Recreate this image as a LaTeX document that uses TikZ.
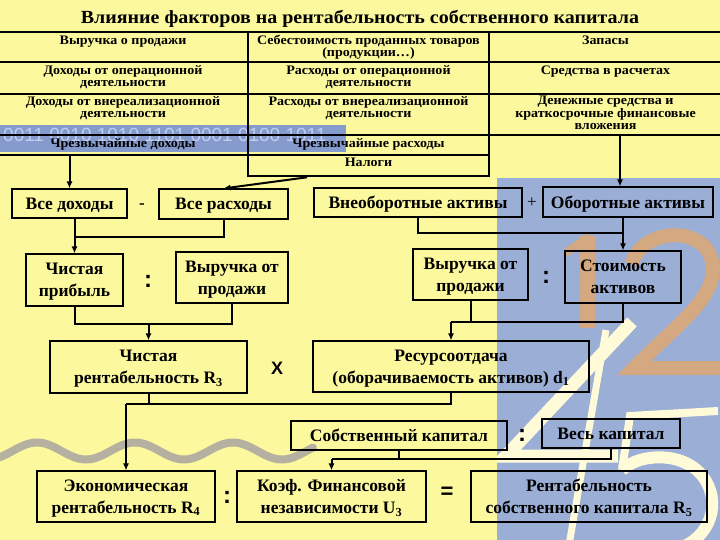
\documentclass[tikz,border=0pt]{standalone}
\usepackage{fontspec}
\setmainfont{Liberation Serif}
\newfontfamily\opsans{Liberation Sans}
\newfontfamily\widefont{Liberation Serif}[FakeStretch=1.08]
\usetikzlibrary{arrows.meta}
\definecolor{bgyel}{RGB}{252,248,158}
\definecolor{bigblue}{RGB}{154,174,214}
\definecolor{stripblue}{RGB}{134,155,205}
\definecolor{stripdig}{RGB}{192,205,238}
\definecolor{tan}{RGB}{212,168,128}
\definecolor{cream}{RGB}{255,250,215}
\definecolor{wavegrey}{RGB}{182,176,160}
\newcommand\cellstrut{\rule{0pt}{10pt}}
\tikzset{
  cellbox/.style={draw=black, line width=2.6pt, inner sep=0pt},
  celltext/.style={anchor=north, inner sep=0pt, align=center, font=\widefont\bfseries\fontsize{13}{12}\selectfont},
  lbox/.style={draw=black, line width=1.1pt, inner sep=0pt, text depth=0pt, align=center, font=\bfseries\fontsize{17.5}{22}\selectfont},
  opsym/.style={inner sep=0pt, font=\opsans\bfseries\fontsize{24}{24}\selectfont},
  conn/.style={line width=2pt},
  arr/.style={line width=2pt, -{Latex[length=7pt,width=6pt]}},
}
\begin{document}
\begin{tikzpicture}[x=1pt,y=-1pt]
\useasboundingbox (0,0) rectangle (720,540);
\fill[bgyel] (0,0) rectangle (720,540);
% decorative background
\fill[bigblue] (497,178) rectangle (722,542);
\begin{scope}
\clip (497,178) rectangle (720,540);
\draw[tan, line width=15pt] (587,236) -- (587,328);
\draw[tan, line width=8pt, line cap=round] (587,238) -- (567,252);
\draw[tan, line width=14pt] (632,264) .. controls (640,228) and (710,222) .. (713,268)
   .. controls (713,300) and (680,322) .. (634,368) -- (722,368);
\draw[cream, line width=13pt] (632,322) -- (506,456) -- (618,456);
\draw[cream, line width=7pt] (606,330) -- (569,545);
\draw[cream, line width=8pt] (718,411) -- (630,416) -- (622,470);
\draw[cream, line width=12pt] (622,470) .. controls (640,452) and (692,450) .. (708,485)
   .. controls (722,515) and (700,548) .. (668,550);
\end{scope}
\fill[stripblue] (0,125) rectangle (346,152);
\node[anchor=base west, inner sep=0pt, text=stripdig, font=\opsans\fontsize{19}{19}\selectfont] (bits) at (3,142) {0011 0010 1010 1101 0001 0100 1011};
\draw[wavegrey, line width=8pt, line cap=round] plot[domain=0:313, samples=120, smooth] (\x, {451 - 8.5*cos(3.6735*(\x-37))});
% title
\node[anchor=base, inner sep=0pt, font=\widefont\bfseries\fontsize{18.5}{20}\selectfont] (title) at (360,23.5) {Влияние факторов на рентабельность собственного капитала};
% table cells
\node[cellbox, minimum width=250pt, minimum height=30pt] (cL1) at (123,47) {};
\node[cellbox, minimum width=241pt, minimum height=30pt] (cM1) at (368.5,47) {};
\node[cellbox, minimum width=233pt, minimum height=30pt] (cR1) at (605.5,47) {};
\node[cellbox, minimum width=250pt, minimum height=32pt] (cL2) at (123,78) {};
\node[cellbox, minimum width=241pt, minimum height=32pt] (cM2) at (368.5,78) {};
\node[cellbox, minimum width=233pt, minimum height=32pt] (cR2) at (605.5,78) {};
\node[cellbox, minimum width=250pt, minimum height=41pt] (cL3) at (123,114.5) {};
\node[cellbox, minimum width=241pt, minimum height=41pt] (cM3) at (368.5,114.5) {};
\node[cellbox, minimum width=233pt, minimum height=41pt] (cR3) at (605.5,114.5) {};
\node[cellbox, minimum width=250pt, minimum height=20pt] (cL4) at (123,145) {};
\node[cellbox, minimum width=241pt, minimum height=20pt] (cM4) at (368.5,145) {};
\node[cellbox, minimum width=241pt, minimum height=21pt] (cM5) at (368.5,165.5) {};
\node[celltext] (tL1) at ([yshift=-3.6pt]cL1.north) {\cellstrut Выручка о продажи};
\node[celltext] (tM1) at ([yshift=-3.6pt]cM1.north) {\cellstrut Себестоимость проданных товаров\\(продукции…)};
\node[celltext] (tR1) at ([yshift=-3.6pt]cR1.north) {\cellstrut Запасы};
\node[celltext] (tL2) at ([yshift=-3.6pt]cL2.north) {\cellstrut Доходы от операционной\\деятельности};
\node[celltext] (tM2) at ([yshift=-3.6pt]cM2.north) {\cellstrut Расходы от операционной\\деятельности};
\node[celltext] (tR2) at ([yshift=-3.6pt]cR2.north) {\cellstrut Средства в расчетах};
\node[celltext] (tL3) at ([yshift=-2.5pt]cL3.north) {\cellstrut Доходы от внереализационной\\деятельности};
\node[celltext] (tM3) at ([yshift=-2.5pt]cM3.north) {\cellstrut Расходы от внереализационной\\деятельности};
\node[celltext, font=\widefont\bfseries\fontsize{13}{11.5}\selectfont] (tR3) at ([yshift=-2pt]cR3.north) {\cellstrut Денежные средства и\\краткосрочные финансовые\\вложения};
\node[celltext] (tL4) at ([yshift=-3.5pt]cL4.north) {\cellstrut Чрезвычайные доходы};
\node[celltext] (tM4) at ([yshift=-3.5pt]cM4.north) {\cellstrut Чрезвычайные расходы};
\node[celltext] (tM5) at ([yshift=-3pt]cM5.north) {\cellstrut Налоги};
% lower boxes
\node[lbox, minimum width=115pt, minimum height=29pt] (vd) at (69.5,203.5) {Все доходы};
\node[lbox, minimum width=129pt, minimum height=30pt] (vr) at (223.5,204) {Все расходы};
\node[lbox, minimum width=97pt, minimum height=52pt] (cp) at (74.5,280) {Чистая\\прибыль};
\node[lbox, minimum width=112pt, minimum height=51pt] (vp1) at (232,277.5) {Выручка от\\продажи};
\node[lbox, minimum width=197pt, minimum height=52pt] (r3) at (148.5,367) {Чистая\\рентабельность R\textsubscript{3}};
\node[lbox, minimum width=276pt, minimum height=51pt] (d1) at (451,366.5) {Ресурсоотдача\\(оборачиваемость активов) d\textsubscript{1}};
\node[lbox, minimum width=178pt, minimum height=51pt] (r4) at (126,496.5) {Экономическая\\рентабельность R\textsubscript{4}};
\node[lbox, minimum width=189pt, minimum height=51pt] (u3) at (331.5,496.5) {Коэф. Финансовой\\независимости U\textsubscript{3}};
\node[lbox, minimum width=236pt, minimum height=51pt] (r5) at (589,496.5) {Рентабельность\\собственного капитала R\textsubscript{5}};
\node[lbox, minimum width=216pt, minimum height=29pt] (sk) at (399,435.5) {Собственный капитал};
\node[lbox, minimum width=138pt, minimum height=29pt] (vk) at (611,433.5) {Весь капитал};
\node[lbox, minimum width=208pt, minimum height=29pt] (vna) at (418,202.5) {Внеоборотные активы};
\node[lbox, minimum width=170pt, minimum height=30pt] (oa) at (628,202) {Оборотные активы};
\node[lbox, minimum width=115pt, minimum height=51pt] (vp2) at (470.5,274.5) {Выручка от\\продажи};
\node[lbox, minimum width=116pt, minimum height=52pt] (sa) at (623,277) {Стоимость\\активов};
% operators
\node[inner sep=0pt, font=\bfseries\fontsize{17}{17}\selectfont] (minus) at (142,206) {-};
\node[inner sep=0pt, font=\fontsize{17}{17}\selectfont] (plus) at (532,203) {+};
\node[opsym] (col1) at (148,281) {:};
\node[opsym] (col2) at (546,277) {:};
\node[opsym] (col3) at (227,497) {:};
\node[opsym] (col4) at (522,435) {:};
\node[inner sep=0pt, font=\opsans\bfseries\fontsize{18}{18}\selectfont] (times) at (277,368) {X};
\node[inner sep=0pt, font=\opsans\bfseries\fontsize{22}{22}\selectfont] (eq) at (447,493) {=};
% connectors
\coordinate (j1) at (0,237);
\coordinate (j2) at (0,324);
\coordinate (j3) at (0,404);
\coordinate (j4) at (0,459);
\coordinate (j5) at (0,233);
\coordinate (j6) at (0,322);
\draw[arr] (cL4.south -| vd.north) -- (vd.north);
\draw[arr] ([xshift=-61.5pt]cM5.south) -- (vr.north);
\draw[arr] ([xshift=14.5pt]cR3.south) -- ([xshift=-8pt]oa.north);
\draw[arr] (vd.south -| cp.north) -- (cp.north);
\draw[conn] (vr.south) |- (cp.north |- j1);
\draw[conn] (cp.south) |- (vp1.south |- j2) -- (vp1.south);
\draw[arr] (r3.north |- j2) -- (r3.north);
\draw[conn] (r3.south) -- (r3.south |- j3);
\draw[conn] (r4.north |- j3) -| (d1.south);
\draw[arr] (r4.north |- j3) -- (r4.north);
\draw[conn] (sk.south) -- (sk.south |- j4);
\draw[conn] (u3.north |- j4) -| (vk.south);
\draw[arr] (u3.north |- j4) -- (u3.north);
\draw[conn] (vna.south) |- (sa.north |- j5);
\draw[conn] (oa.south -| sa.north) -- (sa.north |- j5);
\draw[arr] (sa.north |- j5) -- (sa.north);
\draw[conn] (sa.south) |- (d1.north |- j6);
\draw[conn] (vp2.south) -- (vp2.south |- j6);
\draw[arr] (d1.north |- j6) -- (d1.north);
\end{tikzpicture}
\end{document}
